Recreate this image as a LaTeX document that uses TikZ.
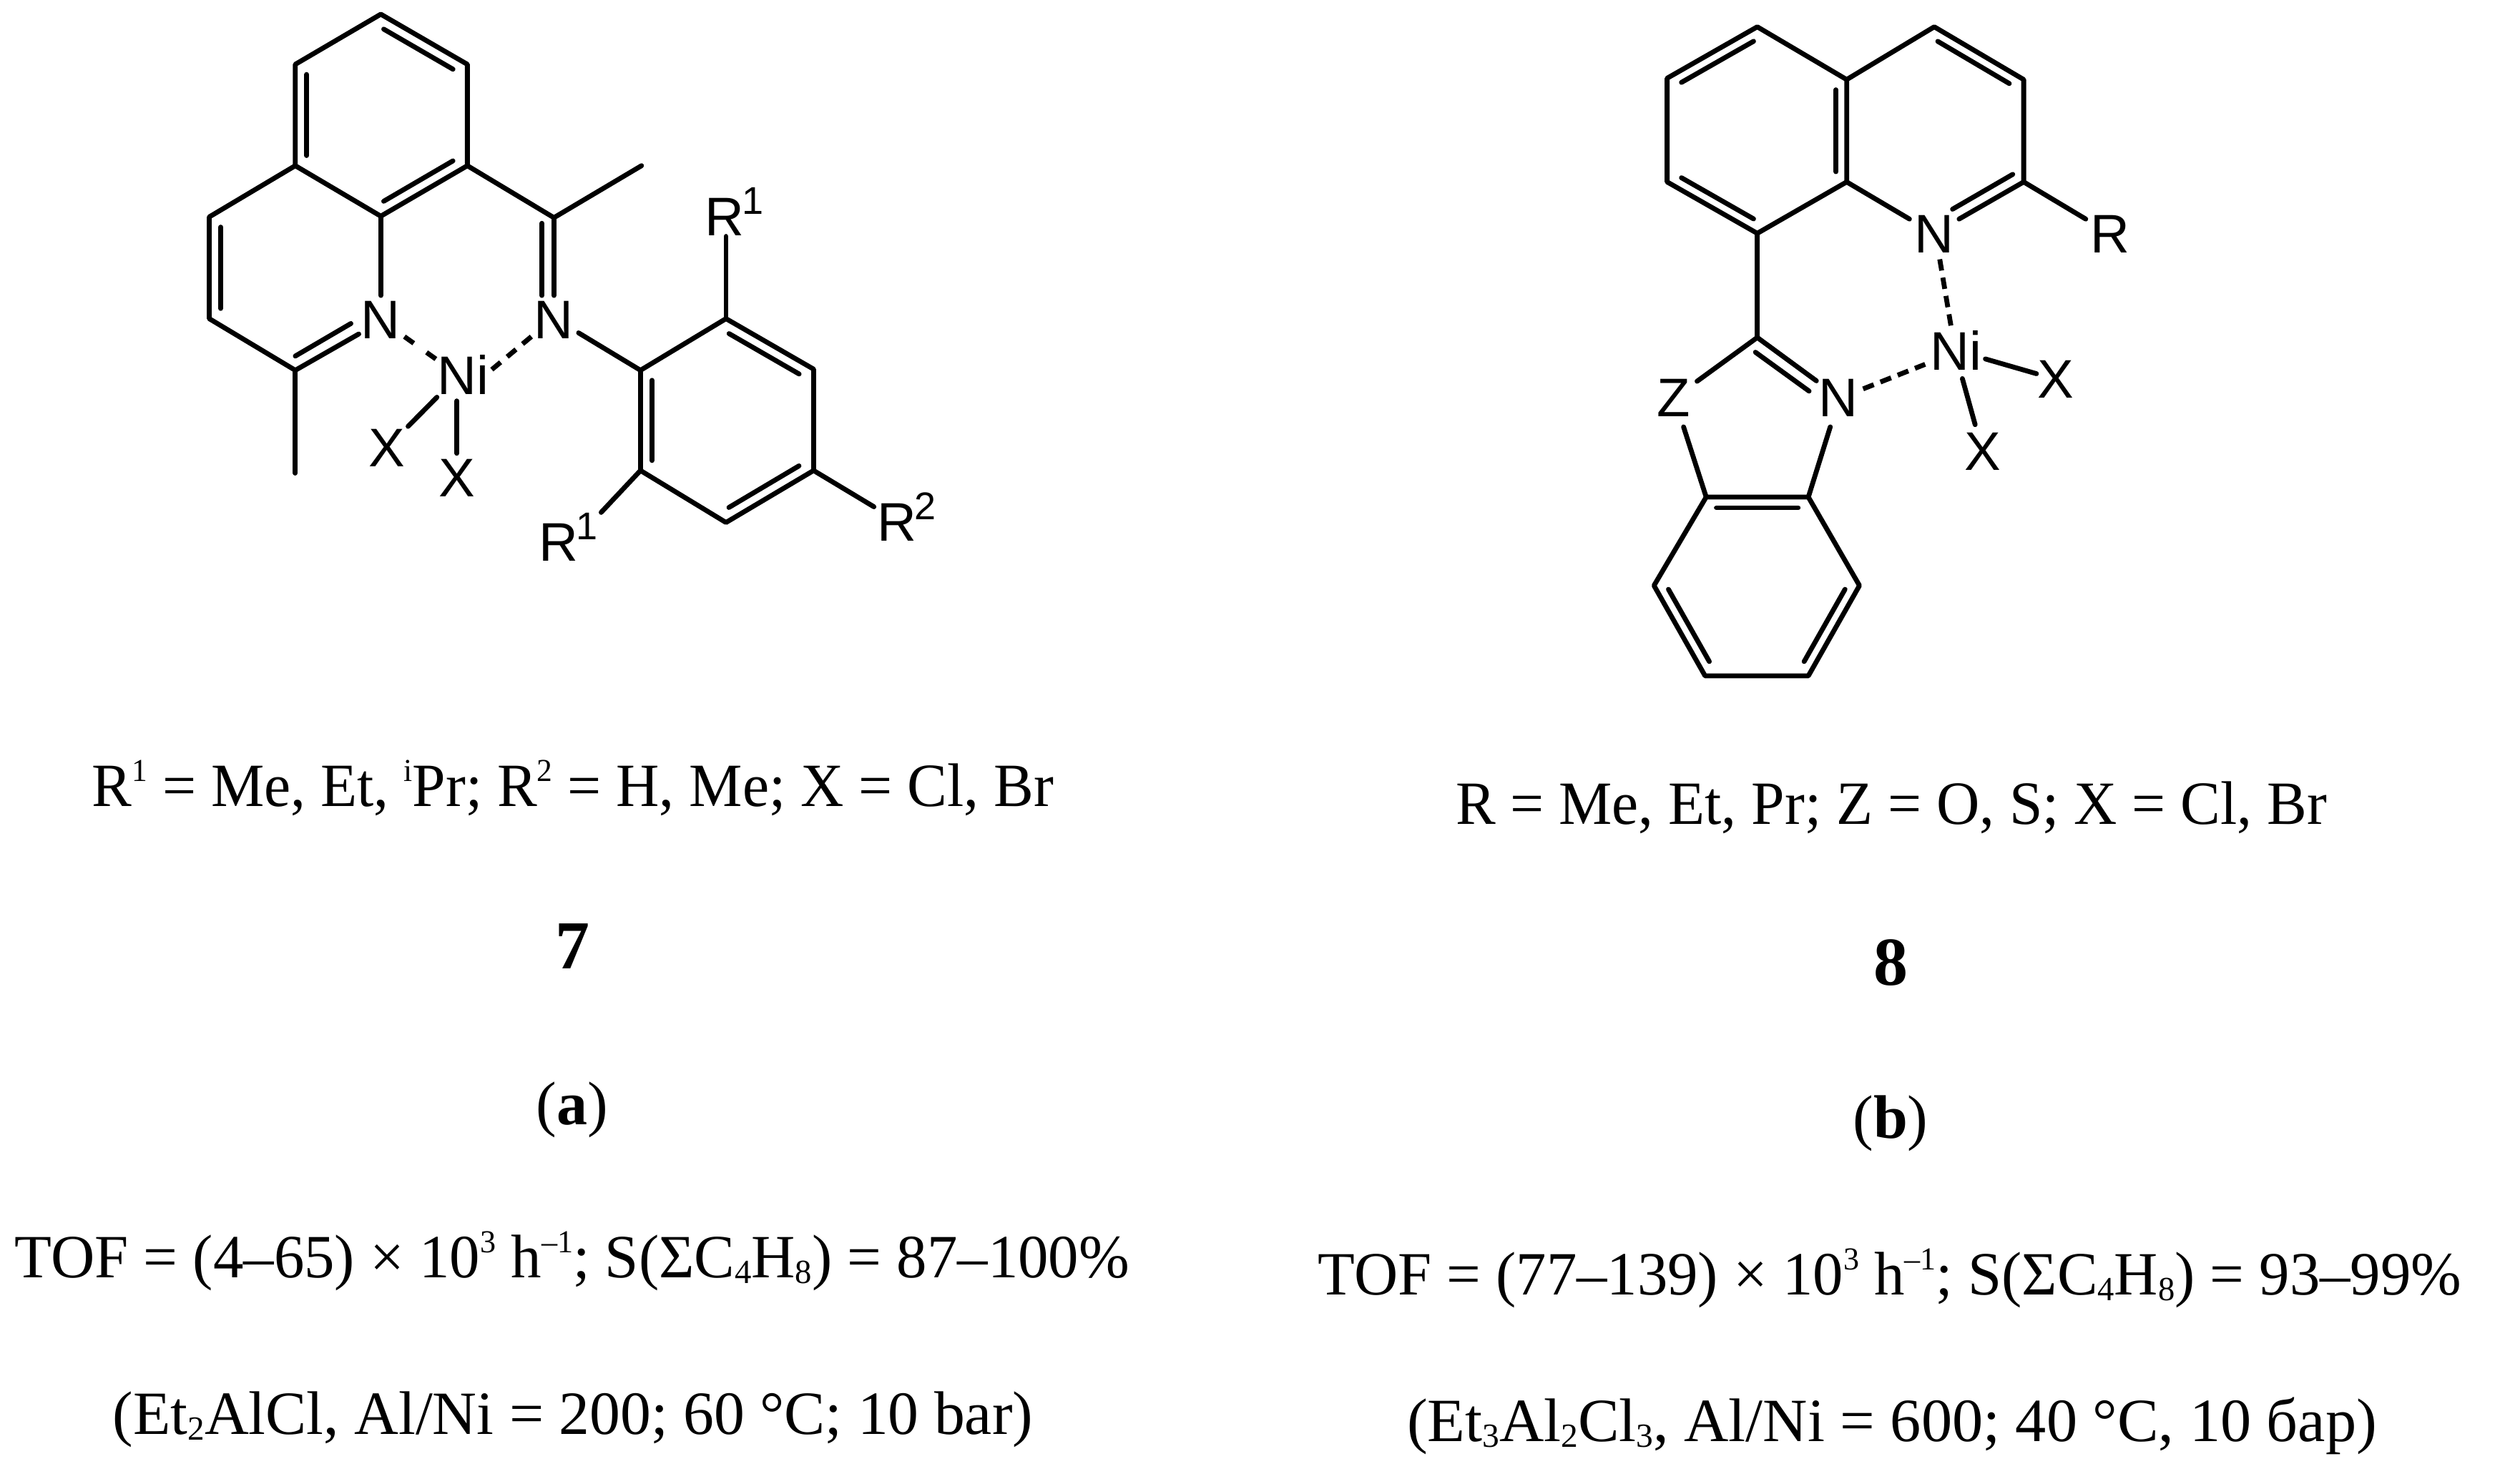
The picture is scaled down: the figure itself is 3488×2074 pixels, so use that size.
\documentclass[tikz,border=0pt]{standalone}
\usepackage{fontspec}
\usepackage{graphicx}
\setmainfont{Liberation Serif}
\newfontfamily\chemfont{Liberation Sans}
\usetikzlibrary{calc}
\newcommand{\sps}[1]{\raisebox{0.40em}{\scalebox{.52}{#1}}}
\newcommand{\sbs}[1]{\raisebox{-0.1em}{\scalebox{.55}{#1}}}
\newcommand{\fitline}[2]{\resizebox{#1}{\height}{#2}}
\newcommand{\chemsup}[1]{\kern-1.5pt\raisebox{15pt}{\fontsize{27}{27}\selectfont #1}}
\newcommand{\dbl}[2]{\draw[bond] ($(#1)!.1!(#2)!\dd!90:(#2)$) -- ($(#2)!.1!(#1)!\dd!-90:(#1)$);}
\newcommand{\dd}{8pt}
\tikzset{
  bond/.style={line width=3.4pt,line cap=round,line join=round,black},
  dashbond/.style={line width=3.4pt,line cap=butt,black,dash pattern=on 8pt off 5pt},
  atomlabel/.style={font=\chemfont\fontsize{38}{38}\selectfont,anchor=base,inner sep=0pt,text=black},
  chemlabel/.style={font=\chemfont\fontsize{38}{38}\selectfont,anchor=base west,inner sep=0pt,text=black},
  textline/.style={font=\fontsize{43}{43}\selectfont,anchor=base,inner sep=0pt,text=black},
  compound/.style={font=\bfseries\fontsize{48}{48}\selectfont,anchor=base,inner sep=0pt,text=black}
}
\begin{document}
\begin{tikzpicture}[x=0.5pt,y=-0.5pt]
\fill[white] (0,0) rectangle (3488,2074);
\useasboundingbox (0,0) rectangle (3488,2074);
% structure 7
\begin{scope}[shift={(250,0)},x=0.36670pt,y=-0.26148pt]
\foreach \n/\p in {top/{385,38},tl/{222,172},tr/{550,172},bl/{222,443},br/{550,443},bot/{385,578},
  pa/{58,580},pb/{58,852},pc/{222,990},me/{222,1265},nbt/{385,790},pn/{343,893},pin/{222,952},pnin/{328,865},
  ic/{715,582},ime/{882,443},inm/{715,790},iin/{692,597},iinb/{692,790},
  ar1/{880,990},ar2/{1043,852},ar3/{1210,987},ar4/{1210,1258},ar5/{1043,1397},ar6/{880,1258},
  nar/{762,890},rt/{1043,632},rb/{805,1370},rr/{1325,1355},
  da/{430,900},db/{490,960},dc/{672,900},dd/{595,990},
  xa/{492,1062},xb/{437,1140},xc/{530,1072},xd/{530,1212}}
  {\coordinate (A\n) at (\p);}
\draw[bond] (Atop)--(Atl)--(Abl)--(Abot)--(Abr)--(Atr)--cycle;
\dbl{Atr}{Atop} \dbl{Atl}{Abl} \dbl{Abot}{Abr}
\draw[bond] (Abl)--(Apa)--(Apb)--(Apc)--(Apn);
\dbl{Apa}{Apb}
\draw[bond] (Apin)--(Apnin);
\draw[bond] (Apc)--(Ame);
\draw[bond] (Abot)--(Anbt);
\draw[bond] (Abr)--(Aic)--(Aime);
\draw[bond] (Aic)--(Ainm);
\draw[bond] (Aiin)--(Aiinb);
\draw[bond] (Aar1)--(Aar2)--(Aar3)--(Aar4)--(Aar5)--(Aar6)--cycle;
\dbl{Aar1}{Aar6} \dbl{Aar5}{Aar4} \dbl{Aar3}{Aar2}
\draw[bond] (Anar)--(Aar1);
\draw[bond] (Aar2)--(Art);
\draw[bond] (Aar6)--(Arb);
\draw[bond] (Aar4)--(Arr);
\draw[dashbond,dash pattern=on 8pt off 11pt] (Ada)--(Adb);
\draw[dashbond,dash pattern=on 8pt off 6pt] (Adc)--(Add);
\draw[bond] (Axa)--(Axb);
\draw[bond] (Axc)--(Axd);
\node[atomlabel] (a-n1) at (385,905) {N};
\node[atomlabel] (a-n2) at (715,905) {N};
\node[atomlabel] (a-ni) at (542,1055) {Ni};
\node[atomlabel] (a-x1) at (397,1247) {X};
\node[atomlabel] (a-x2) at (530,1328) {X};
\node[chemlabel] (a-r1t) at (1002,630) {R\chemsup{1}};
\node[chemlabel] (a-r1b) at (686,1500) {R\chemsup{1}};
\node[chemlabel] (a-r2) at (1331,1447) {R\chemsup{2}};
\end{scope}
% structure 8
\renewcommand{\dd}{7.5pt}
\begin{scope}[shift={(2250,0)},x=0.25510pt,y=-0.31250pt]
\foreach \n/\p in {a1/{405,60},a2/{158,175},a3/{158,407},a4/{405,522},a5/{650,407},a6/{650,178},
  r1/{890,60},r2/{1135,178},r3/{1135,407},na/{822,490},nb/{958,490},nc/{1105,390},nd/{940,468},re/{1305,490},
  c2/{405,755},za/{240,853},zb/{203,955},ca/{265,1112},cb/{545,1112},
  ne/{567,852},nf/{400,788},ng/{547,875},nh/{605,955},
  b1/{685,1310},b2/{545,1512},b3/{262,1512},b4/{122,1310},
  da/{695,870},db/{865,815},dc/{905,580},dd/{937,735},
  xa/{1030,803},xb/{1170,836},xc/{967,847},xd/{1002,950}}
  {\coordinate (B\n) at (\p);}
\draw[bond] (Ba1)--(Ba2)--(Ba3)--(Ba4)--(Ba5)--(Ba6)--cycle;
\dbl{Ba1}{Ba2} \dbl{Ba3}{Ba4} \dbl{Ba5}{Ba6}
\draw[bond] (Ba6)--(Br1)--(Br2)--(Br3)--(Bnb);
\dbl{Br2}{Br1}
\draw[bond] (Bnc)--(Bnd);
\draw[bond] (Ba5)--(Bna);
\draw[bond] (Br3)--(Bre);
\draw[bond] (Ba4)--(Bc2);
\draw[bond] (Bza)--(Bc2)--(Bne);
\draw[bond] (Bnf)--(Bng);
\draw[bond] (Bzb)--(Bca);
\draw[bond] (Bnh)--(Bcb);
\draw[bond] (Bca)--(Bcb)--(Bb1)--(Bb2)--(Bb3)--(Bb4)--cycle;
\dbl{Bcb}{Bca} \dbl{Bb4}{Bb3} \dbl{Bb2}{Bb1}
\draw[dashbond] (Bda)--(Bdb);
\draw[dashbond] (Bdc)--(Bdd);
\draw[bond] (Bxa)--(Bxb);
\draw[bond] (Bxc)--(Bxd);
\node[atomlabel] (b-n1) at (890,565) {N};
\node[atomlabel] (b-r) at (1372,565) {R};
\node[atomlabel] (b-n2) at (627,932) {N};
\node[atomlabel] (b-z) at (175,932) {Z};
\node[atomlabel] (b-ni) at (950,828) {Ni};
\node[atomlabel] (b-x1) at (1222,890) {X};
\node[atomlabel] (b-x2) at (1023,1052) {X};
\end{scope}
% captions
\node[textline] (la1) at (801,1127) {\fitline{672pt}{R\sps{1} = Me, Et, \sps{i}Pr; R\sps{2} = H, Me; X = Cl, Br}};
\node[compound] (la2) at (800,1354) {7};
\node[textline] (la3) at (800,1572) {(\textbf{a})};
\node[textline] (la4) at (800,1786) {\fitline{779pt}{TOF = (4–65) × 10\sps{3} h\sps{–1}; S(ΣC\sbs{4}H\sbs{8}) = 87–100\%}};
\node[textline] (la5) at (801,2005) {\fitline{643pt}{(Et\sbs{2}AlCl, Al/Ni = 200; 60 °C; 10 bar)}};
\node[textline] (lb1) at (2644,1152) {\fitline{609pt}{R = Me, Et, Pr; Z = O, S; X = Cl, Br}};
\node[compound] (lb2) at (2643,1377) {8};
\node[textline] (lb3) at (2643,1591) {(\textbf{b})};
\node[textline] (lb4) at (2642,1810) {\fitline{799pt}{TOF = (77–139) × 10\sps{3} h\sps{–1}; S(ΣC\sbs{4}H\sbs{8}) = 93–99\%}};
\node[textline] (lb5) at (2645,2015) {\fitline{678pt}{(Et\sbs{3}Al\sbs{2}Cl\sbs{3}, Al/Ni = 600; 40 °C, 10 бар)}};
\end{tikzpicture}
\end{document}
